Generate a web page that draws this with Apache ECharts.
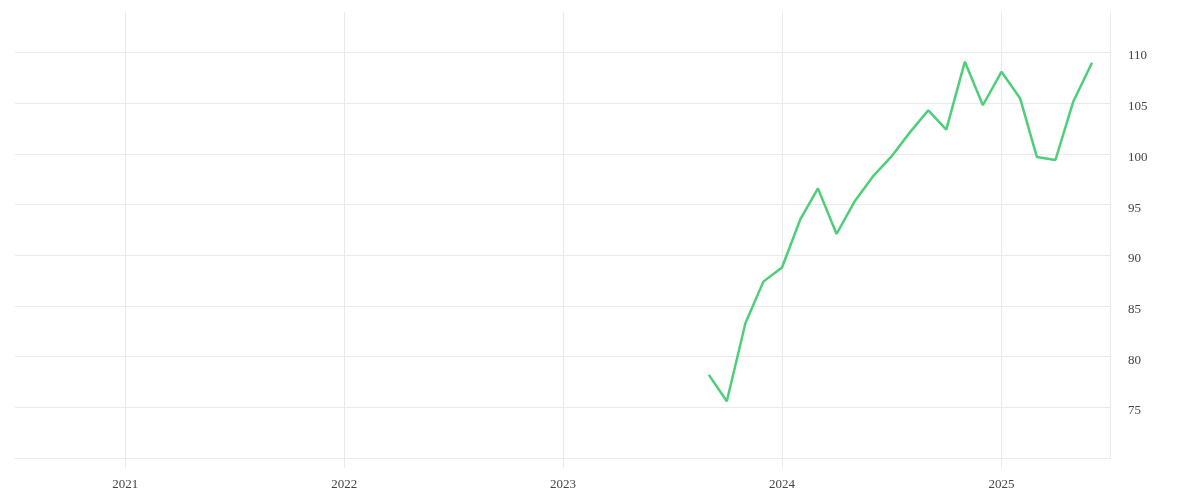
<!DOCTYPE html>
<html>
<head>
<meta charset="utf-8">
<script src="https://cdn.jsdelivr.net/npm/echarts@6/dist/echarts.min.js"></script>
<style>html,body{margin:0;padding:0;background:#fff}#c{width:1200px;height:500px}</style>
</head>
<body>
<div id="c"></div>
<script>
var dates = ['2023-09-01','2023-10-01','2023-11-01','2023-12-01','2024-01-01','2024-02-01','2024-03-01','2024-04-01','2024-05-01','2024-06-01','2024-07-01','2024-08-01','2024-09-01','2024-10-01','2024-11-01','2024-12-01','2025-01-01','2025-02-01','2025-03-01','2025-04-01','2025-05-01','2025-06-01'];
var values = [78.2,75.6,83.3,87.4,88.8,93.6,96.6,92.1,95.3,97.8,99.7,102.1,104.3,102.4,109.1,104.8,108.1,105.5,99.7,99.4,105.2,109.0];
var yTicks = [70,75,80,85,90,95,100,105,110];

var lineColor = '#eaeaea';
var textColor = '#444';
var font = 'Liberation Serif';
var chart = echarts.init(document.getElementById('c'), null, {renderer:'canvas'});
chart.setOption({
  animation:false,
  backgroundColor:'#fff',
  grid:{left:15,right:90,top:12,bottom:42,containLabel:false},
  xAxis:{
    type:'time',
    min:'2020-07-01', max:'2025-07-01',
    splitNumber:5,
    axisLine:{show:true,lineStyle:{color:lineColor,width:1}},
    axisTick:{show:true,length:10,lineStyle:{color:lineColor}},
    splitLine:{show:true,showMinLine:false,lineStyle:{color:lineColor}},
    axisLabel:{color:textColor,fontFamily:font,fontSize:13,margin:20,showMinLabel:false,showMaxLabel:false,
      formatter:function(v){return String(new Date(v).getFullYear());}}
  },
  yAxis:{
    type:'value', position:'right',
    min:yTicks[0], max:114, interval:5,
    axisLine:{show:true,lineStyle:{color:lineColor}},
    axisTick:{show:false},
    splitLine:{show:true,showMaxLine:false,lineStyle:{color:lineColor}},
    axisLabel:{color:textColor,fontFamily:font,fontSize:13,margin:18,verticalAlign:'top',lineHeight:7,showMinLabel:false,showMaxLabel:false}
  },
  series:[{
    type:'line',
    data:dates.map(function(d,i){return [d,values[i]];}),
    showSymbol:false,
    lineStyle:{color:'#4ccf78',width:2.5},
    itemStyle:{color:'#4ccf78'}
  }]
});
</script>
</body>
</html>
